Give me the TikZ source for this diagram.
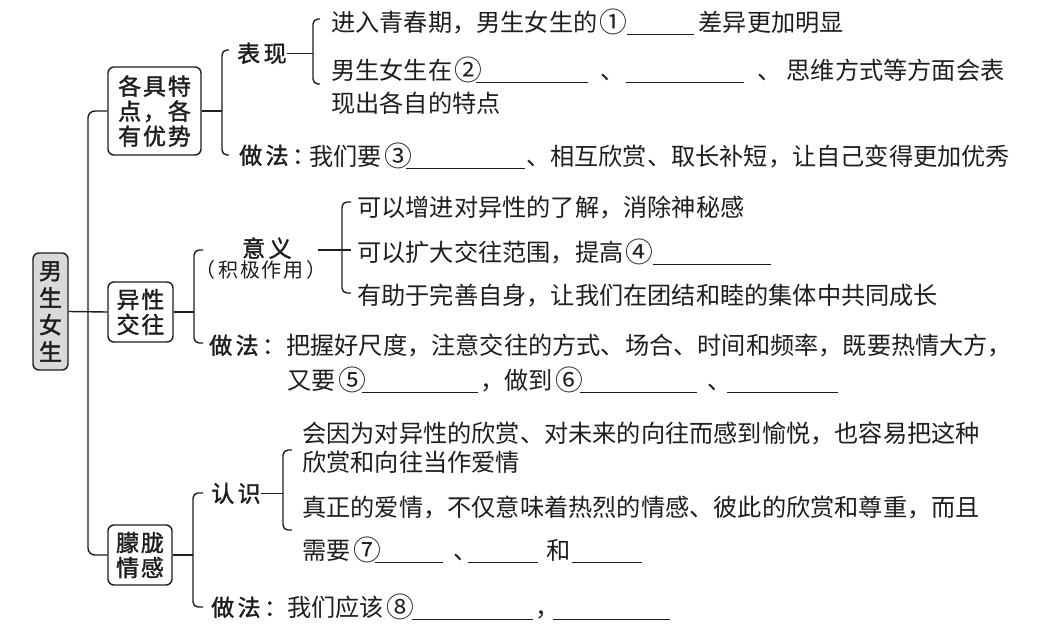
\documentclass[tikz,border=0pt]{standalone}
\usepackage{fontspec}
\usepackage{graphicx}
\newfontfamily\bodyfont{Noto Sans CJK SC}
\newfontfamily\labfont[LetterSpace=15,FakeBold=1.5]{Noto Sans CJK SC}
\newfontfamily\boxfontfam[LetterSpace=8,FakeBold=1.5]{Noto Sans CJK SC}
\newfontfamily\smallfont[LetterSpace=8]{Noto Sans CJK SC}
\newcommand\myblank[1]{\rule[-4pt]{#1pt}{1.1pt}}
\newcommand\cnum[1]{\makebox[24.2pt][l]{\hspace{2.5pt}\raisebox{-1.4pt}{\scalebox{1.15}{#1}}}}
\definecolor{ink}{HTML}{1E1E1E}
\definecolor{rootfill}{HTML}{D9D9D9}
\begin{document}
\begin{tikzpicture}[x=1pt,y=-1pt,
  conn/.style={draw=ink, line width=1.4pt, rounded corners=5pt},
  txt/.style={inner sep=0pt, anchor=base west, text=ink, font=\bodyfont\fontsize{24.2}{29}\selectfont},
  lab/.style={inner sep=0pt, anchor=base west, text=ink, font=\labfont\fontsize{23}{27}\selectfont},
  topic/.style={draw=ink, line width=1.4pt, rounded corners=6pt, align=center, inner sep=0pt, text=ink, font=\boxfontfam\fontsize{23}{25}\selectfont},
]
\useasboundingbox[fill=white] (0,0) rectangle (1045,629);

% ---- topic boxes ----
\node[topic, fill=rootfill, minimum width=35pt, minimum height=117pt, font=\boxfontfam\fontsize{23}{27}\selectfont] (root) at (50.5,311.5) {男\\生\\女\\生};
\node[topic, minimum width=93pt, minimum height=88pt] (b1) at (154.5,111) {各具特\\点，各\\有优势};
\node[topic, minimum width=65pt, minimum height=60pt] (b2) at (140.5,312) {异性\\交往};
\node[topic, minimum width=64pt, minimum height=60pt] (b3) at (140,555) {朦胧\\情感};

\coordinate (tx) at (88,0);
\draw[conn, rounded corners=7pt] (b1.west) -- (b1.west -| tx) -- (b3.west -| tx) -- (b3.west);
\draw[conn] (root.east) -- (b2.west);

% ---- labels ----
\node[lab] (bx) at (237,62) {表现};
\node[lab] (zf1) at (239,164) {做法：};
\node[lab] (yy) at (242,257) {意义};
\node[inner sep=0pt, text=ink, font=\smallfont\fontsize{20}{24}\selectfont] (jj) at (261,270) {（\hspace{3pt}积极作用\hspace{3pt}）};
\node[lab] (zf2) at (209,354) {做法：};
\node[lab] (rs) at (211,502) {认识};
\node[lab] (zf3) at (211,616) {做法：};

% ---- section 1 brackets ----
\coordinate (ax) at (222,0);
\coordinate (a1) at (229,50);
\coordinate (a2) at (229,155);
\draw[conn] (b1.east) -- (b1.east -| ax);
\draw[conn] (a1) -- (a1 -| ax) -- (a2 -| ax) -- (a2);

\coordinate (bbx) at (313,0);
\coordinate (bb1) at (320,19);
\coordinate (bb2) at (320,84);
\draw[conn] (bx.east) -- (bx.east -| bbx);
\draw[conn] (bb1) -- (bb1 -| bbx) -- (bb2 -| bbx) -- (bb2);

% ---- section 2 brackets ----
\coordinate (cx) at (194,0);
\coordinate (c1) at (203,250);
\coordinate (c2) at (203,343);
\draw[conn] (b2.east) -- (b2.east -| cx);
\draw[conn] (c1) -- (c1 -| cx) -- (c2 -| cx) -- (c2);

\coordinate (dx) at (342,0);
\coordinate (d1) at (351,202);
\coordinate (d2) at (351,293);
\coordinate (dm) at (351,250);
\coordinate (ds) at (318,250);
\draw[conn] (ds) -- (dm);
\draw[conn] (d1) -- (d1 -| dx) -- (d2 -| dx) -- (d2);

% ---- section 3 brackets ----
\coordinate (ex) at (193,0);
\coordinate (e1) at (203,493);
\coordinate (e2) at (203,607);
\draw[conn] (b3.east) -- (b3.east -| ex);
\draw[conn] (e1) -- (e1 -| ex) -- (e2 -| ex) -- (e2);

\coordinate (fx) at (283,0);
\coordinate (f1) at (292,450);
\coordinate (f2) at (292,530);
\draw[conn] (rs.east) -- (rs.east -| fx);
\draw[conn] (f1) -- (f1 -| fx) -- (f2 -| fx) -- (f2);

% ---- body text ----
\node[txt] (t1) at (331,31) {进入青春期，男生女生的\cnum{①}\hspace{5pt}\myblank{67}\hspace{5pt}差异更加明显};
\node[txt] (t2) at (331,79) {男生女生在\cnum{②}\myblank{112}\hspace{12pt}、\hspace{1pt}\myblank{118}\hspace{14pt}、\hspace{5pt}思维方式等方面会表};
\node[txt] (t3) at (331,112) {现出各自的特点};
\node[txt] (t4) at (309,165) {我们要\cnum{③}\myblank{119}\hspace{1pt}、相互欣赏、取长补短，让自己变得更加优秀};

\node[txt] (m1) at (357,216) {可以增进对异性的了解，消除神秘感};
\node[txt] (m2) at (357,261) {可以扩大交往范围，提高\cnum{④}\hspace{5pt}\myblank{118}};
\node[txt] (m3) at (357,304) {有助于完善自身，让我们在团结和睦的集体中共同成长};
\node[txt] (m4) at (286,354) {把握好尺度，注意交往的方式、场合、时间和频率，既要热情大方，};
\node[txt] (m5) at (287,389) {又要\cnum{⑤}\hspace{2.5pt}\myblank{116}\hspace{2pt}，做到\cnum{⑥}\hspace{3pt}\myblank{117}\hspace{10pt}、\hspace{-4pt}\myblank{111}};

\node[txt] (n1) at (302,442) {会因为对异性的欣赏、对未来的向往而感到愉悦，也容易把这种};
\node[txt] (n2) at (302,471) {欣赏和向往当作爱情};
\node[txt] (n3) at (302,516) {真正的爱情，不仅意味着热烈的情感、彼此的欣赏和尊重，而且};
\node[txt] (n4) at (302,559) {需要\cnum{⑦}\myblank{68}\hspace{11pt}、\hspace{-10pt}\myblank{70}\hspace{8pt}和\hspace{2pt}\myblank{70}};
\node[txt] (n5) at (287,616) {我们应该\cnum{⑧}\hspace{4pt}\myblank{121}\hspace{2pt}，\hspace{-6pt}\myblank{117}};
\end{tikzpicture}
\end{document}
